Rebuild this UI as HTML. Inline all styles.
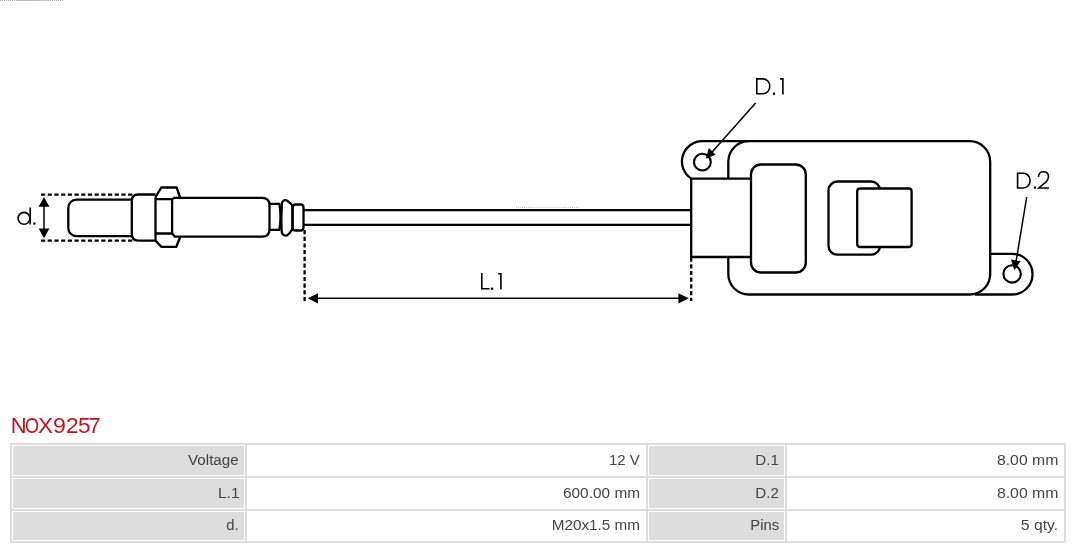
<!DOCTYPE html>
<html>
<head>
<meta charset="utf-8">
<style>
html,body{margin:0;padding:0;background:#fff;width:1080px;height:549px;overflow:hidden;}
body{position:relative;font-family:"Liberation Sans",sans-serif;}
h1,table{will-change:transform;}
#art{position:absolute;left:0;top:0;}
.dots{position:absolute;width:64px;height:1px;background:repeating-linear-gradient(90deg,#c4c4c4 0 1px,transparent 1px 2px);}
.dots i{position:absolute;left:16px;top:0;width:32px;height:1px;background:#c8c4be;}
h1{position:absolute;left:0;top:413px;width:120px;height:26px;margin:0;font-weight:normal;color:#c4121f;font-size:22px;line-height:26px;}
h1 span{position:absolute;top:0;transform-origin:0 50%;}
table{position:absolute;left:10px;top:443px;width:1056px;border-collapse:separate;border-spacing:2px;background:#ddd;}
td{border:1px solid #fff;padding:0 5px 0 0;text-align:right;color:#444;font-size:14px;height:29px;box-sizing:border-box;}
td span{display:inline-block;position:relative;top:-1px;transform-origin:100% 50%;}
td.l{background:#ddd;}
td.v{background:#fff;}
</style>
</head>
<body>
<div class="dots" style="left:0;top:0;background:repeating-linear-gradient(90deg,#a4a4a4 0 1px,transparent 1px 2px)"><i style="background:linear-gradient(90deg,#c2bdb6,#b9bcc0 45%,#cbc2b6 75%,#bfc2c6)"></i></div>
<div class="dots" style="left:516px;top:207px;z-index:2"><i style="background:#e4e2de"></i></div>
<svg id="art" width="1080" height="400" viewBox="0 0 1080 400">
<g fill="none" stroke="#000" stroke-width="2.3" stroke-linejoin="round">
  <!-- dashed d. lines -->
  <path d="M41 194.6H135M41 240.6H135" stroke-dasharray="4.2 2.5" stroke-width="2.3" stroke-linejoin="miter"/>
  <!-- tip -->
  <path d="M132 199.6H76.5A8.2 8.2 0 0 0 68.3 207.8V227.9A8.2 8.2 0 0 0 76.5 236.1H132" fill="#fff"/>
  <!-- collar -->
  <path d="M155.5 194.5H138.3Q131.8 194.5 131.8 201V234.1Q131.8 240.6 138.3 240.6H155.5"/>
  <!-- nut -->
  <path d="M155.5 197.2V240.6L161.3 246.8H176.3L180.1 237.3M155.5 197.2L161.3 187.5H176.6L180.1 197.5M155.5 199.1H172.1M155.5 233.5H172.1"/>
  <!-- body -->
  <path d="M172.1 199.5V233.5L175 236.7H262Q269.5 236.7 269.5 229.2V205.3Q269.5 197.8 262 197.8H174Z"/>
  <!-- neck -->
  <path d="M269.5 203.9H279.4Q281.6 217 279.4 229.9H269.5"/>
  <!-- flange -->
  <path d="M281.8 205.5Q281.6 200.2 285.3 200.2Q287.3 200.2 292.4 205.2V229.2Q288.3 235.6 286 235.6Q281.6 235.8 281.6 230Q281 217.5 281.8 205.5Z"/>
  <!-- ring -->
  <path d="M292.6 207.5Q292.6 204.5 295.6 204.5H300.5Q303.5 204.5 303.5 207.5V227.5Q303.5 230.5 300.5 230.5H295.6Q292.6 230.5 292.6 227.5Z"/>
  <!-- cable -->
  <path d="M303.5 210.2H691.2M303.5 224.9H691.2"/>
  <!-- dashed L.1 -->
  <path d="M304.6 230V301M691.2 257.5V301" stroke-dasharray="4.2 2.5" stroke-width="2.3" stroke-linejoin="miter"/>
  <!-- module main -->
  <rect x="728.3" y="141.2" width="261.9" height="153.3" rx="20.5"/>
  <!-- ear 1 -->
  <path d="M748.3 141.2H702.3A20.3 20.3 0 0 0 691.3 178.6"/>
  <circle cx="702.4" cy="162.1" r="8.4" stroke-width="2.1"/>
  <!-- connector box -->
  <path d="M751 178.6H691.2V257H751" fill="#fff"/>
  <!-- plug -->
  <rect x="751" y="164.5" width="54.8" height="108" rx="10" fill="#fff"/>
  <!-- back rect -->
  <rect x="828.5" y="181.5" width="51.5" height="73.2" rx="9"/>
  <!-- front rect -->
  <path d="M860.2 188.5H908.6Q911.6 188.5 911.6 191.5V244Q911.6 247 908.6 247H860.2Q857.2 247 857.2 244V191.5Q857.2 188.5 860.2 188.5Z" fill="#fff"/>
  <!-- ear 2 -->
  <path d="M990.2 253.8H1012.2A20.35 20.35 0 0 1 1012.2 294.5H975"/>
  <circle cx="1012.1" cy="273.9" r="8.7" stroke-width="2.1"/>
</g>
<g fill="none" stroke="#000" stroke-width="1.5">
  <!-- d arrow -->
  <path d="M44 205V230"/>
  <!-- L.1 arrow -->
  <path d="M316 298.3H681"/>
  <!-- D.1 leader -->
  <path d="M755.6 103L711.5 152.8"/>
  <!-- D.2 leader -->
  <path d="M1026.7 197L1016 262"/>
</g>
<g fill="#000" stroke="none">
  <path d="M44 196.9L49.4 206.8H38.6Z"/>
  <path d="M44 238.3L49.4 228.5H38.6Z"/>
  <path d="M307.6 298.3L318 293.2V303.4Z"/>
  <path d="M688.8 298.3L678.4 293.2V303.4Z"/>
  <path d="M705.7 158.8L708.9 148L715.6 154.8Z"/>
  <path d="M1014.3 270.3L1011 259.6L1020.6 261.2Z"/>
</g>
<!-- labels -->
<g fill="none" stroke="#000" stroke-width="1.6" stroke-linecap="butt">
  <!-- d. -->
  <circle cx="24" cy="218.3" r="5.95"/>
  <path d="M30.2 207.4V224.4"/>
  <!-- L.1 -->
  <path d="M481.8 273V288.7H489.5"/>
  <path d="M498.2 273.8H500.9V289.5"/>
  <!-- D.1 -->
  <path d="M756.8 78.9V93.8H762.6C766.9 93.8 769.8 90.5 769.8 86.35C769.8 82.2 766.9 78.9 762.6 78.9Z"/>
  <path d="M780 78.9H782.9V94.5"/>
  <!-- D.2 -->
  <path d="M1017.6 173.2V188H1023.2C1027.3 188 1030.1 184.7 1030.1 180.6C1030.1 176.5 1027.3 173.2 1023.2 173.2Z"/>
  <path d="M1038.4 177Q1038.8 171.8 1043.5 171.8Q1048.5 171.8 1048.5 176.6Q1048.5 179.4 1046.4 181.6L1038.8 188H1049"/>
</g>
<g fill="#000">
  <rect x="33.3" y="222.4" width="2.2" height="2.2"/>
  <rect x="490.9" y="287.6" width="2.4" height="2.2"/>
  <rect x="772.9" y="92.6" width="2.2" height="2.2"/>
  <rect x="1033.9" y="186.5" width="2.2" height="2.2"/>
</g>
</svg>
<h1><span style="left:10.70px;transform:scaleX(1.00)">N</span><span style="left:24.90px;transform:scaleX(0.82)">O</span><span style="left:38.10px;transform:scaleX(1.02)">X</span><span style="left:53.45px;transform:scaleX(1.05)">9</span><span style="left:66.02px;transform:scaleX(1.03)">2</span><span style="left:77.61px;transform:scaleX(1.03)">5</span><span style="left:88.40px;transform:scaleX(1.00)">7</span></h1>
<table>
<tr style="height:31px"><td class="l" style="width:233px"><span style="transform:scaleX(1.085)">Voltage</span></td><td class="v" style="width:399px"><span style="transform:scaleX(1.070)">12 V</span></td><td class="l" style="width:137px"><span style="transform:scaleX(1.080)">D.1</span></td><td class="v"><span style="transform:scaleX(1.130)">8.00 mm</span></td></tr>
<tr style="height:31px"><td class="l"><span style="transform:scaleX(1.100)">L.1</span></td><td class="v"><span style="transform:scaleX(1.100)">600.00 mm</span></td><td class="l"><span style="transform:scaleX(1.080)">D.2</span></td><td class="v"><span style="transform:scaleX(1.130)">8.00 mm</span></td></tr>
<tr style="height:30px"><td class="l"><span style="transform:scaleX(1.060)">d.</span></td><td class="v"><span style="transform:scaleX(1.090)">M20x1.5 mm</span></td><td class="l"><span style="transform:scaleX(1.060)">Pins</span></td><td class="v"><span style="transform:scaleX(1.125)">5 qty.</span></td></tr>
</table>
</body>
</html>
